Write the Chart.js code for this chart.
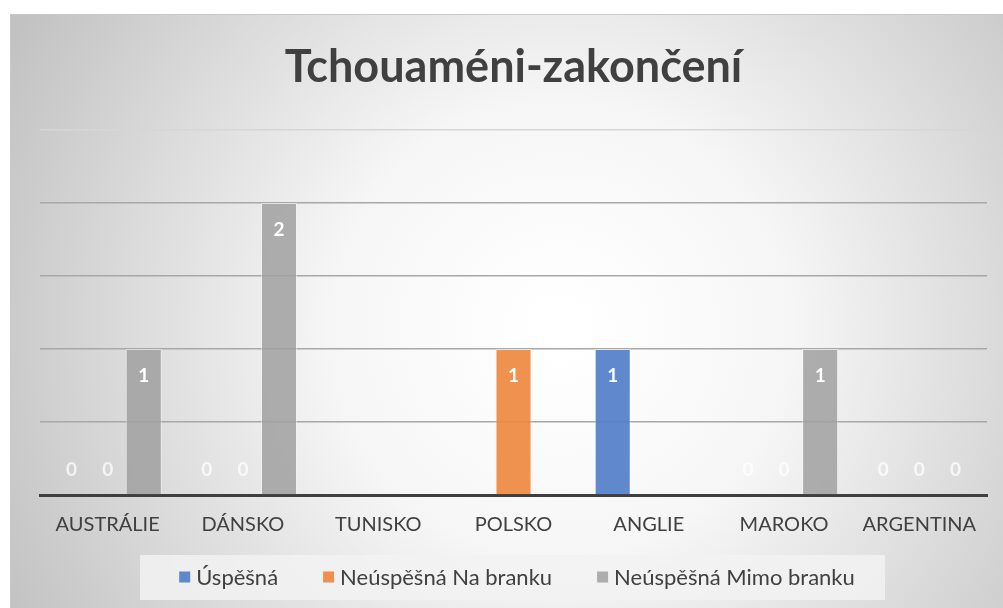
<!DOCTYPE html>
<html>
<head>
<meta charset="utf-8">
<script src="https://cdn.jsdelivr.net/npm/chart.js@4"></script>
<style>
  html, body { margin: 0; padding: 0; background: #fff; }
  #wrap { width: 1003px; height: 608px; }
</style>
</head>
<body>
<div id="wrap"><canvas id="shotsChart" width="1003" height="608"></canvas></div>
<script>
const categories = ['AUSTRÁLIE', 'DÁNSKO', 'TUNISKO', 'POLSKO', 'ANGLIE', 'MAROKO', 'ARGENTINA'];
const uspesna = [0, 0, null, null, 1, 0, 0];
const naBranku = [0, 0, null, 1, null, 0, 0];
const mimoBranku = [1, 2, null, null, null, 1, 0];
const seriesNames = ['Úspěšná', 'Neúspěšná Na branku', 'Neúspěšná Mimo branku'];
const seriesColors = ['rgba(79,123,198,0.9)', 'rgba(238,134,60,0.9)', 'rgba(160,160,160,0.85)'];

const FONT = 'Lato, "Open Sans", sans-serif';

// grey panel with the soft radial shading
const backdrop = {
  id: 'backdrop',
  beforeDraw(chart) {
    const c = chart.ctx;
    c.save();
    const g = c.createRadialGradient(560, 330, 20, 560, 330, 620);
    g.addColorStop(0, '#ffffff');
    g.addColorStop(0.35, '#f6f6f6');
    g.addColorStop(1, '#c2c2c2');
    c.fillStyle = g;
    c.fillRect(10, 14, 1003, 600);
    c.strokeStyle = '#c8c8c8';
    c.lineWidth = 1;
    c.strokeRect(10.5, 14.5, 1003, 600);
    c.restore();
  }
};

// legend drawn by hand so spacing matches the office-style one
const bottomLegend = {
  id: 'bottomLegend',
  afterDraw(chart) {
    const c = chart.ctx;
    c.save();
    c.fillStyle = 'rgba(242,242,242,0.85)';
    c.fillRect(140, 555, 745, 45);
    c.font = '22px ' + FONT;
    c.textBaseline = 'middle';
    const sq = 11, gapText = 6, gapItem = 45, cy = 577;
    const widths = seriesNames.map(n => c.measureText(n).width);
    let total = 0;
    widths.forEach((w, i) => { total += sq + gapText + w + (i ? gapItem : 0); });
    let x = 517 - total / 2;
    seriesNames.forEach((n, i) => {
      c.fillStyle = seriesColors[i];
      c.fillRect(x, cy - sq / 2, sq, sq);
      c.fillStyle = '#404040';
      c.fillText(n, x + sq + gapText, cy + 1);
      x += sq + gapText + widths[i] + gapItem;
    });
    c.restore();
  }
};

// value labels inside the bars
const barLabels = {
  id: 'barLabels',
  afterDatasetsDraw(chart) {
    const c = chart.ctx;
    c.save();
    c.font = 'bold 19px ' + FONT;
    c.textAlign = 'center';
    c.textBaseline = 'middle';
    chart.data.datasets.forEach((ds, i) => {
      const meta = chart.getDatasetMeta(i);
      meta.data.forEach((bar, j) => {
        const v = ds.data[j];
        if (v === null || v === undefined) return;
        if (v > 0) {
          c.fillStyle = '#ffffff';
          c.fillText(String(v), bar.x, bar.y + 27);
        } else {
          c.fillStyle = 'rgba(255,255,255,0.75)';
          c.fillText(String(v), bar.x, bar.base - 25);
        }
      });
    });
    c.restore();
  }
};

new Chart(document.getElementById('shotsChart'), {
  type: 'bar',
  data: {
    labels: categories,
    datasets: seriesNames.map((name, i) => ({
      label: name,
      data: [uspesna, naBranku, mimoBranku][i],
      backgroundColor: seriesColors[i],
      borderColor: 'rgba(255,255,255,0.45)',
      borderWidth: 1,
      categoryPercentage: 0.8,
      barPercentage: 1
    }))
  },
  options: {
    responsive: false,
    animation: false,
    layout: { padding: { left: 40, right: 16, top: 40, bottom: 53 } },
    plugins: {
      title: {
        display: true,
        text: 'Tchouaméni-zakončení',
        color: '#404040',
        font: { family: FONT, size: 45, weight: 'bold' },
        padding: { top: 0, bottom: 36 }
      },
      legend: { display: false },
      tooltip: { enabled: false }
    },
    scales: {
      x: {
        grid: { display: false, drawTicks: false },
        border: { display: true, color: '#3f3f3f', width: 3 },
        ticks: { color: '#404040', font: { family: FONT, size: 20 }, padding: 18 }
      },
      y: {
        min: 0,
        max: 2.5,
        ticks: { display: false, stepSize: 0.5 },
        border: { display: false },
        grid: {
          drawTicks: false,
          color: ctx => ctx.tick.value === 2.5 ? '#d6d6d6' : '#a8a8a8',
          lineWidth: 1.5
        }
      }
    }
  },
  plugins: [backdrop, bottomLegend, barLabels]
});
</script>
</body>
</html>
